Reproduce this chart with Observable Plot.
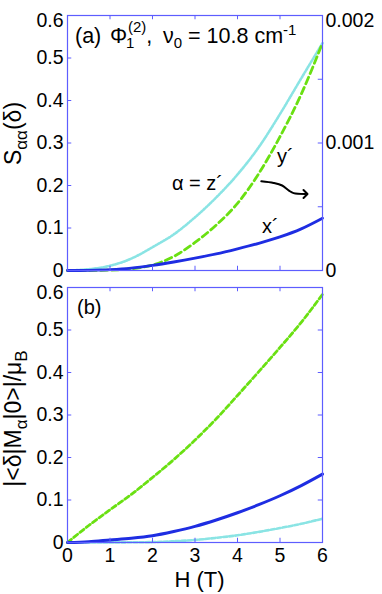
<!DOCTYPE html>
<html><head><meta charset="utf-8">
<script src="https://cdn.jsdelivr.net/npm/d3@7"></script>
<script src="https://cdn.jsdelivr.net/npm/@observablehq/plot@0.6"></script>
<style>
body{margin:0;background:#fff;}
#chart{width:382px;height:594px;position:relative;}
#chart svg{display:block;max-width:none;overflow:visible;}
</style></head><body><div id="chart"></div>
<script>
// ---- data ----
const fieldH = [0,0.5,1,1.5,2,2.5,3,3.5,4,4.5,5,5.5,6];
// panel (a): S_aa(delta)
const sZ = [0,0.00001,0.000037,0.000093,0.000183,0.000283,0.000417,0.000573,0.000753,0.000967,0.001227,0.001507,0.001783]; // right axis units
const sY = [0,0.0002,0.001,0.004,0.013,0.033,0.066,0.107,0.158,0.228,0.315,0.415,0.535];
const sX = [0,0.0005,0.002,0.0055,0.012,0.02,0.029,0.039,0.051,0.064,0.079,0.098,0.123];
// panel (b): |<delta|M_a|0>|/mu_B
const mY = [0,0.04,0.077,0.113,0.153,0.195,0.241,0.291,0.346,0.402,0.459,0.518,0.584];
const mX = [0,0.002,0.006,0.01,0.016,0.026,0.038,0.053,0.07,0.089,0.11,0.134,0.161];
const mZ = [0,0,0.0002,0.0005,0.001,0.003,0.006,0.011,0.017,0.025,0.034,0.044,0.056];
// axes
const xTicks = [0,1,2,3,4,5,6];
const yTicks = [0,0.1,0.2,0.3,0.4,0.5,0.6];
const rightTicks = [0,0.0005,0.001,0.0015,0.002];
const rightLabels = [0,0.001,0.002];
const rightToLeft = 0.6 / 0.002;
// annotation arrow (H, value)
const arrowH = [4.56,4.85,5.05,5.21,5.32,5.6];
const arrowV = [0.210,0.206,0.200,0.188,0.182,0.180];

// ---- styles ----
const FONT = '"Liberation Sans", Arial, Helvetica, sans-serif';
const FRAME = "#5d5dff";
const CYAN = "#8ae4e4", GREEN = "#6ae012", BLUE = "#1e2de2";
const TICK_DX = 0.1, TICK_DY = 0.01;

const rows = (vals, f = 1) => fieldH.map((h, i) => ({H: h, v: vals[i] * f}));
const fmt1 = d => d === 0 ? "0" : d.toFixed(1);

function frameTicks(rightVals) {
  return [
    Plot.frame({stroke: FRAME, strokeWidth: 1.2}),
    Plot.ruleY(yTicks.slice(1, -1), {y: d => d, x1: () => 0, x2: () => TICK_DX, stroke: FRAME}),
    Plot.ruleY(rightVals, {y: d => d, x1: () => 6 - TICK_DX, x2: () => 6, stroke: FRAME}),
    Plot.ruleX(xTicks.slice(1, -1), {x: d => d, y1: () => 0, y2: () => TICK_DY, stroke: FRAME}),
    Plot.ruleX(xTicks.slice(1, -1), {x: d => d, y1: () => 0.6, y2: () => 0.6 - TICK_DY, stroke: FRAME}),
    Plot.text(yTicks.slice(0, -1), {x: () => 0, y: d => d, text: fmt1, textAnchor: "end", dx: -4, fontSize: 19.5, fill: "black"}),
    Plot.text(yTicks.slice(-1), {x: () => 0, y: d => d, text: fmt1, textAnchor: "end", dx: -4, dy: 5, fontSize: 19.5, fill: "black"})
  ];
}

function addText(svg, {x, y, size = 20, anchor = "start", rotate = 0, parts}) {
  const t = d3.select(svg).append("text")
    .attr("transform", `translate(${x},${y})` + (rotate ? ` rotate(${rotate})` : ""))
    .attr("text-anchor", anchor).attr("font-size", size).attr("fill", "black")
    .attr("font-family", FONT);
  parts.forEach(p => {
    const s = t.append("tspan").text(p.text);
    if (p.x != null) s.attr("x", p.x);
    if (p.dx) s.attr("dx", p.dx);
    if (p.dy) s.attr("dy", p.dy);
    if (p.size) s.attr("font-size", p.size);
  });
}

const base = {
  width: 382,
  marginLeft: 67, marginRight: 60,
  x: {domain: [0, 6], axis: null},
  y: {domain: [0, 0.6], axis: null},
  style: {fontFamily: FONT, fontSize: "19.5px", color: "black", background: "transparent", overflow: "visible"}
};

// ---- panel (a) ----
const pa = Plot.plot({
  ...base,
  height: 279, marginTop: 15, marginBottom: 9,
  marks: [
    Plot.line(rows(sZ, rightToLeft), {x: "H", y: "v", stroke: CYAN, strokeWidth: 2.6, strokeDasharray: "1.6,1.4", curve: "monotone-x"}),
    Plot.line(rows(sY), {x: "H", y: "v", stroke: GREEN, strokeWidth: 2.8, strokeDasharray: "7,4", curve: "monotone-x"}),
    Plot.line(rows(sX), {x: "H", y: "v", stroke: BLUE, strokeWidth: 2.8, curve: "monotone-x"}),
    ...frameTicks(rightTicks.slice(1, -1).map(d => d * rightToLeft)),
    Plot.text(rightLabels.slice(0, -1), {x: () => 6, y: d => d * rightToLeft, text: d => d === 0 ? "0" : d.toFixed(3), textAnchor: "start", dx: 3, fontSize: 19.5, fill: "black"}),
    Plot.text(rightLabels.slice(-1), {x: () => 6, y: d => d * rightToLeft, text: d => d.toFixed(3), textAnchor: "start", dx: 3, dy: 5, fontSize: 19.5, fill: "black"}),
    Plot.line(arrowH.map((h, i) => ({H: h, v: arrowV[i]})), {x: "H", y: "v", stroke: "black", strokeWidth: 2, curve: "catmull-rom", markerEnd: "arrow"})
  ]
});

// ---- panel (b) ----
const pb = Plot.plot({
  ...base,
  height: 315, marginTop: 8, marginBottom: 52,
  marks: [
    Plot.line(rows(mZ), {x: "H", y: "v", stroke: CYAN, strokeWidth: 2.6, strokeDasharray: "4,2", curve: "monotone-x"}),
    Plot.line(rows(mY), {x: "H", y: "v", stroke: GREEN, strokeWidth: 2.8, strokeDasharray: "5,3", curve: "monotone-x"}),
    Plot.line(rows(mX), {x: "H", y: "v", stroke: BLUE, strokeWidth: 3, curve: "monotone-x"}),
    ...frameTicks(yTicks.slice(1, -1)),
    Plot.text(xTicks, {x: d => d, y: () => 0, text: d => String(d), lineAnchor: "top", dy: 6, fontSize: 19.5, fill: "black"})
  ]
});

const chart = document.getElementById("chart");
chart.append(pa, pb);

// annotations (a)
{
  const sx = pa.scale("x").apply, sy = pa.scale("y").apply;
  const x0 = sx(0), yTop = sy(0.6);
  addText(pa, {x: 0, y: yTop + 28, size: 21.5, parts: [
    {text: "(a)", x: x0 + 8},
    {text: "Φ", x: x0 + 43},
    {text: "1", x: x0 + 59, dy: 5, size: 15},
    {text: "(2)", x: x0 + 61, dy: -16, size: 15},
    {text: ",", dy: 11},
    {text: "ν", x: x0 + 96},
    {text: "0", dy: 5, size: 15},
    {text: " = 10.8 cm", dy: -5},
    {text: "-1", dy: -8, size: 15}
  ]});
  addText(pa, {x: sx(4.94), y: sy(0.252), size: 20, parts: [{text: "y´"}]});
  addText(pa, {x: sx(2.47), y: sy(0.188), size: 20, parts: [{text: "α = z´"}]});
  addText(pa, {x: sx(4.59), y: sy(0.087), size: 20, parts: [{text: "x´"}]});
  addText(pa, {x: 21, y: (sy(0) + sy(0.6)) / 2 - 9, size: 23, anchor: "middle", rotate: -90, parts: [
    {text: "S"}, {text: "αα", dy: 6, size: 17}, {text: "(δ)", dy: -6}
  ]});
}
// annotations (b)
{
  const sx = pb.scale("x").apply, sy = pb.scale("y").apply;
  addText(pb, {x: sx(0) + 10, y: sy(0.6) + 27, size: 20, parts: [{text: "(b)"}]});
  addText(pb, {x: 21, y: (sy(0) + sy(0.6)) / 2 + 4, size: 23, anchor: "middle", rotate: -90, parts: [
    {text: "|<δ|M"}, {text: "α", dy: 6, size: 17}, {text: "|0>|/μ", dy: -6}, {text: "B", dy: 6, size: 17}
  ]});
  addText(pb, {x: (sx(0) + sx(6)) / 2 + 5, y: sy(0) + 45, size: 22, anchor: "middle", parts: [{text: "H (T)"}]});
}
</script>
</body></html>
